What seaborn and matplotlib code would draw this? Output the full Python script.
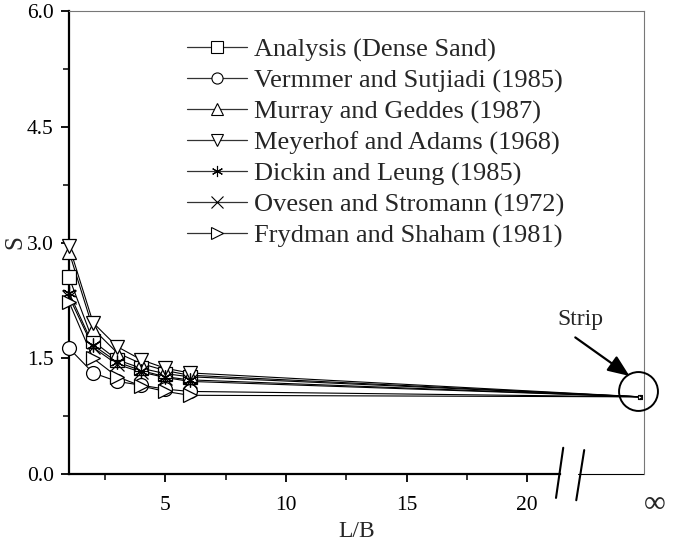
import matplotlib
matplotlib.use("Agg")
import matplotlib.pyplot as plt
import seaborn as sns
import pandas as pd
import numpy as np
from matplotlib.transforms import blended_transform_factory
from matplotlib.lines import Line2D

sns.set_theme(style="white")
plt.rcParams['font.family'] = ['Liberation Serif', 'DejaVu Serif']

# ---- data ----
lb = [1, 2, 3, 4, 5, 6]
strip_x = 24.7          # position of the "infinity" (strip) point
strip_s = 1.0
analysis = [2.55, 1.72, 1.48, 1.37, 1.30, 1.26]
vermeer = [1.63, 1.31, 1.20, 1.15, 1.10, 1.07]
murray = [2.88, 1.88, 1.57, 1.43, 1.34, 1.28]
meyerhof = [2.96, 1.96, 1.65, 1.48, 1.37, 1.31]
dickin = [2.35, 1.67, 1.45, 1.34, 1.26, 1.22]
ovesen = [2.30, 1.64, 1.42, 1.32, 1.25, 1.20]
frydman = [2.23, 1.50, 1.26, 1.14, 1.07, 1.02]
names = ["Analysis (Dense Sand)", "Vermmer and Sutjiadi (1985)",
         "Murray and Geddes (1987)", "Meyerhof and Adams (1968)",
         "Dickin and Leung (1985)", "Ovesen and Stromann (1972)",
         "Frydman and Shaham (1981)"]
series = [analysis, vermeer, murray, meyerhof, dickin, ovesen, frydman]
markers = ['s', 'o', '^', 'v', (6, 2, 0), 'x', '>']
yticks = [0.0, 1.5, 3.0, 4.5, 6.0]
xticks = [5, 10, 15, 20]

fig = plt.figure(figsize=(6.85, 5.49), dpi=100)
ax = fig.add_axes([69/685, 75/549, (644-69)/685, (474-11)/549])

rows = []
for n, vals in zip(names, series):
    for x, v in zip(lb + [strip_x], vals + [strip_s]):
        rows.append({"L/B": x, "S": v, "src": n})
df = pd.DataFrame(rows)

for n, m in zip(names, markers):
    d = df[df.src == n]
    sns.lineplot(data=d, x="L/B", y="S", ax=ax, color="black", lw=0.8,
                 legend=False, sort=False, zorder=3)
    dd = d[d["L/B"] < 10]
    fill = 'none' if m in ('x', (6, 2, 0)) else 'white'
    ax.plot(dd["L/B"], dd["S"], linestyle='none', marker=m, ms=10,
            mfc=fill, mec='black', mew=0.9, zorder=4, clip_on=False)
    ds = d[d["L/B"] > 10]
    ax.plot(ds["L/B"], ds["S"], linestyle='none', marker=m, ms=3,
            mfc=fill, mec='black', mew=0.7, zorder=4, clip_on=False)

# legend proxies
handles = []
for n, m in zip(names, markers):
    fill = 'none' if m in ('x', (6, 2, 0)) else 'white'
    handles.append(Line2D([], [], color='#333333', lw=0.9, marker=m, ms=8,
                          mfc=fill, mec='black', mew=0.8))
leg = ax.legend(handles, names, loc='upper left', bbox_to_anchor=(0.186, 0.965),
                frameon=False, fontsize=19, handlelength=2.3,
                handletextpad=0.25, labelspacing=0.27, borderaxespad=0)

ax.set_xlim(1, 24.85)
ax.set_ylim(0, 6)
ax.set_yticks(yticks)
ax.set_yticklabels([f"{t:.1f}" for t in yticks])
ax.set_yticks([0.75, 2.25, 3.75, 5.25], minor=True)
ax.set_xticks(xticks)
ax.set_xticklabels([str(t) for t in xticks])
ax.set_xticks([2.5, 7.5, 12.5, 17.5], minor=True)
ax.tick_params(axis='both', which='major', direction='out', length=6, width=1.3,
               labelsize=15.5, colors='black', bottom=True, left=True, pad=5)
ax.tick_params(axis='x', which='major', pad=10)
ax.tick_params(axis='both', which='minor', direction='out', length=4, width=1.3,
               bottom=True, left=True)

for s in ['top', 'right']:
    ax.spines[s].set_color('#777777')
    ax.spines[s].set_linewidth(0.8)
ax.spines['left'].set_color('black')
ax.spines['left'].set_linewidth(1.6)
ax.spines['bottom'].set_color('black')
ax.spines['bottom'].set_linewidth(1.6)
ax.spines['bottom'].set_bounds(1, 21.37)

# thin continuation after break
tb = blended_transform_factory(ax.transData, ax.transAxes)
ax.plot([22.12, 24.85], [0, 0], transform=tb, color='black', lw=0.8, clip_on=False)
# break marks
ax.plot([21.2, 21.5], [-0.31, 0.34], color='black', lw=1.5, clip_on=False, zorder=5)
ax.plot([22.04, 22.37], [-0.34, 0.31], color='black', lw=1.5, clip_on=False, zorder=5)

# infinity label
ax.text(25.3, -0.40, "∞", ha='center', va='center', fontsize=22,
        clip_on=False)

# strip circle and arrow
ax.plot([strip_x - 0.08], [1.07], marker='o', ms=28, mfc='none', mec='black',
        mew=1.4, clip_on=False, linestyle='none', zorder=5)
ax.annotate("", xy=(24.25, 1.27), xytext=(22.0, 1.77),
            arrowprops=dict(arrowstyle='-|>,head_length=1.1,head_width=0.45',
                            color='black', lw=1.6, shrinkA=0, shrinkB=0))
ax.text(22.2, 2.0, "Strip", ha='center', va='center', fontsize=17)

ax.set_xlabel("L/B", fontsize=17, labelpad=4)
ax.set_ylabel("S", fontsize=18, labelpad=0)

fig.savefig("out.png", dpi=100)
